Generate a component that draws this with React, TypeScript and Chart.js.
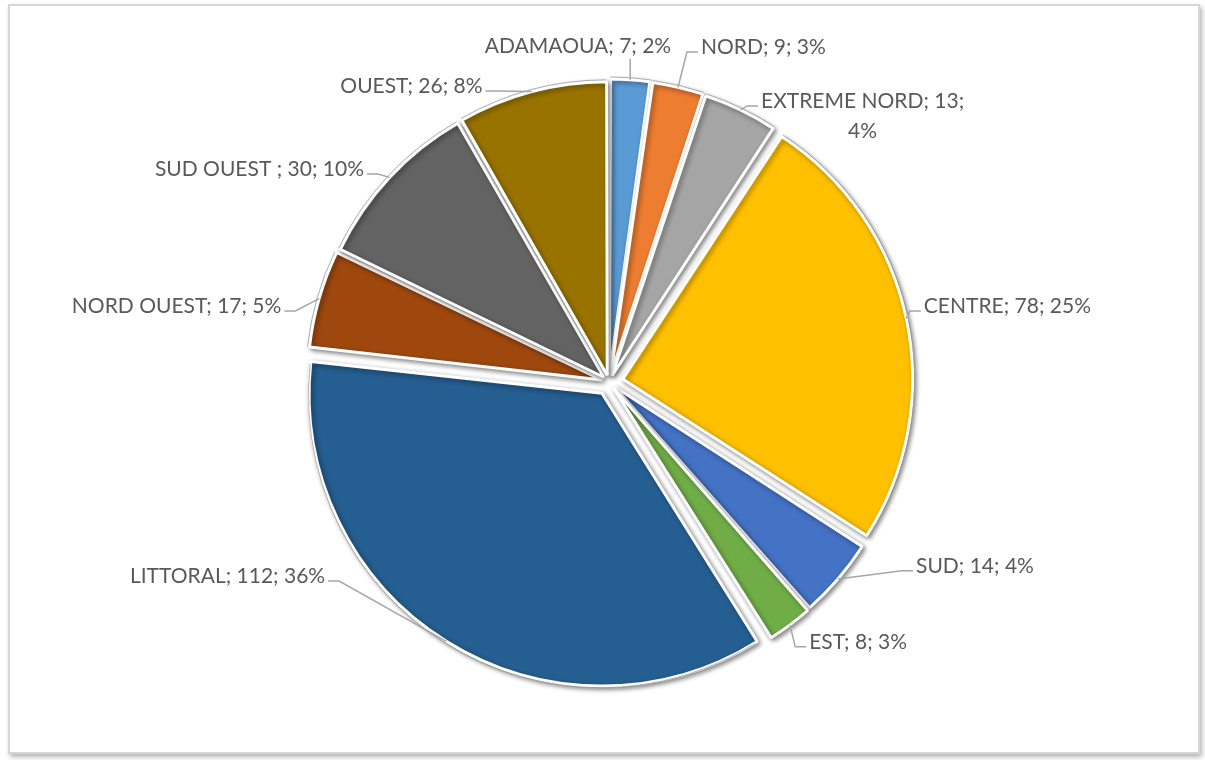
import React, { useEffect, useRef } from "react";
import { Chart, registerables } from "chart.js";

Chart.register(...registerables);

const regions = ["ADAMAOUA", "NORD", "EXTREME NORD", "CENTRE", "SUD", "EST", "LITTORAL", "NORD OUEST", "SUD OUEST ", "OUEST"];
const counts = [7, 9, 13, 78, 14, 8, 112, 17, 30, 26];
const sliceColors = ["#5B9BD5", "#ED7D31", "#A5A5A5", "#FFC000", "#4472C4", "#70AD47", "#255E91", "#9E480E", "#636363", "#997300"];
const sliceExplode = [28, 28, 28, 56, 28, 28, 53, 28, 28, 28];

// label placement relative to the pie centre, in units of the pie radius
const labelLayout: { pos: [number, number]; wrap?: boolean }[] = [
  { pos: [-0.104, -1.128] },
  { pos: [0.518, -1.124] },
  { pos: [0.851, -0.893], wrap: true },
  { pos: [1.337, -0.255] },
  { pos: [1.228, 0.617] },
  { pos: [0.836, 0.872] },
  { pos: [-1.28, 0.651] },
  { pos: [-1.451, -0.255] },
  { pos: [-1.173, -0.715] },
  { pos: [-0.663, -0.993] },
];

const FONT = "21px Lato";
const TEXT_COLOR = "#595959";
const LINE_COLOR = "#a6a6a6";

function arcShift(arc: any, off: number) {
  const circ = arc.endAngle - arc.startAngle;
  const fix = 1 - Math.sin(Math.min(Math.PI, circ || 0));
  return (off / 4) * (1 + fix);
}

const shadowPlugin = {
  id: "sliceShadow",
  beforeDatasetsDraw(chart: any) {
    const ctx = chart.ctx;
    ctx.save();
    ctx.shadowColor = "rgba(0,0,0,0.45)";
    ctx.shadowBlur = 5;
    ctx.shadowOffsetX = 2;
    ctx.shadowOffsetY = 2;
  },
  afterDatasetsDraw(chart: any) {
    const ctx = chart.ctx;
    ctx.restore();
    // thin grey outline around each slice (outside the white border)
    const meta = chart.getDatasetMeta(0);
    const ds = chart.data.datasets[0];
    ctx.save();
    ctx.strokeStyle = "rgba(150,150,150,0.7)";
    ctx.lineWidth = 1;
    meta.data.forEach((arc: any, i: number) => {
      const mid = (arc.startAngle + arc.endAngle) / 2;
      const s = arcShift(arc, ds.offset[i]);
      const x = arc.x + Math.cos(mid) * s;
      const y = arc.y + Math.sin(mid) * s;
      ctx.beginPath();
      ctx.arc(x, y, arc.outerRadius + 2, arc.startAngle, arc.endAngle);
      ctx.stroke();
    });
    ctx.restore();
  },
};

const labelPlugin = {
  id: "outsideLabels",
  afterDraw(chart: any) {
    const ctx = chart.ctx;
    const meta = chart.getDatasetMeta(0);
    const ds = chart.data.datasets[0];
    const values = ds.data as number[];
    const total = values.reduce((a, b) => a + b, 0);
    const area = chart.chartArea;
    const cx = (area.left + area.right) / 2;
    const cy = (area.top + area.bottom) / 2;
    ctx.save();
    ctx.font = FONT;
    ctx.textBaseline = "middle";
    ctx.textAlign = "center";
    meta.data.forEach((arc: any, i: number) => {
      const R = arc.outerRadius + 8;
      const mid = (arc.startAngle + arc.endAngle) / 2;
      const s = arcShift(arc, ds.offset[i]);
      const ax = arc.x + Math.cos(mid) * (arc.outerRadius + s);
      const ay = arc.y + Math.sin(mid) * (arc.outerRadius + s);
      const pct = Math.round((values[i] / total) * 100);
      const lay = labelLayout[i];
      const name = chart.data.labels[i];
      const lines = lay.wrap
        ? [`${name}; ${values[i]};`, `${pct}%`]
        : [`${name}; ${values[i]}; ${pct}%`];
      const lh = 30;
      const tx = cx + lay.pos[0] * R;
      const ty = cy + lay.pos[1] * R;
      const widths = lines.map((l) => ctx.measureText(l).width);
      const w = Math.max(...widths);
      const firstY = ty - ((lines.length - 1) * lh) / 2;
      const left = tx - w / 2;
      const right = tx + w / 2;
      const top = firstY - 12;
      const bottom = firstY + (lines.length - 1) * lh + 12;
      ctx.strokeStyle = LINE_COLOR;
      ctx.lineWidth = 1.5;
      ctx.beginPath();
      if (ax >= left && ax <= right) {
        const ey = ay > ty ? bottom + 1 : top - 1;
        ctx.moveTo(ax, ay);
        ctx.lineTo(ax, ey);
      } else if (ax > right) {
        const ly = firstY + 5;
        ctx.moveTo(right + 3, ly);
        ctx.lineTo(right + 14, ly);
        ctx.lineTo(ax, ay);
      } else {
        const lw = widths[0];
        const ly = firstY + 5;
        const l0 = tx - lw / 2;
        ctx.moveTo(l0 - 3, ly);
        ctx.lineTo(l0 - 14, ly);
        ctx.lineTo(ax, ay);
      }
      ctx.stroke();
      ctx.fillStyle = TEXT_COLOR;
      lines.forEach((l, k) => ctx.fillText(l, tx, firstY + k * lh));
    });
    ctx.restore();
  },
};

export default function App() {
  const ref = useRef<HTMLCanvasElement | null>(null);
  useEffect(() => {
    if (!ref.current) return;
    const chart = new Chart(ref.current, {
      type: "pie",
      data: {
        labels: regions,
        datasets: [
          {
            data: counts,
            backgroundColor: sliceColors,
            borderColor: "#ffffff",
            borderWidth: 3,
            offset: sliceExplode,
            radius: 290,
          } as any,
        ],
      },
      options: {
        responsive: false,
        animation: false,
        layout: { padding: { left: 13, top: 4, right: 0, bottom: 0 } },
        plugins: {
          legend: { display: false },
          tooltip: { enabled: false },
        },
      },
      plugins: [shadowPlugin, labelPlugin],
    });
    return () => chart.destroy();
  }, []);
  return (
    <div style={{ position: "absolute", left: 0, top: 0, width: 1205, height: 760, background: "#fff" }}>
      <div
        style={{
          position: "absolute",
          left: 8,
          top: 4,
          width: 1192,
          height: 750,
          boxSizing: "border-box",
          border: "2px solid #d6d6d6",
          boxShadow: "2px 3px 5px rgba(0,0,0,0.3)",
          background: "#fff",
        }}
      />
      <canvas ref={ref} width={1205} height={760} style={{ position: "absolute", left: 0, top: 0 }} />
    </div>
  );
}
